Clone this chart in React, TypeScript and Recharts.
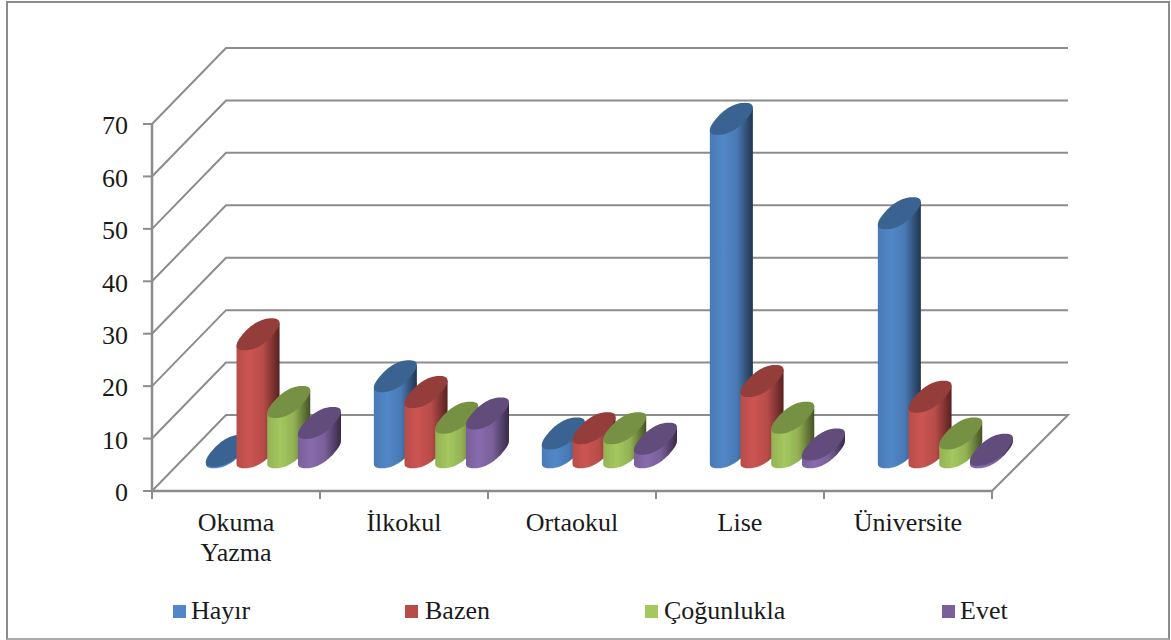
import React from 'react';
import { BarChart, Bar, XAxis, YAxis, CartesianGrid, Legend } from 'recharts';

const categories = ['Okuma Yazma', 'İlkokul', 'Ortaokul', 'Lise', 'Üniversite'];
const hayir = [0.3, 14.5, 3.6, 63.6, 45.6];
const bazen = [22.5, 11.5, 4.6, 13.6, 10.6];
const cogunlukla = [9.6, 6.6, 4.6, 6.6, 3.6];
const evet = [5.6, 7.4, 2.6, 1.5, 0.5];
const yTicks = [0, 10, 20, 30, 40, 50, 60, 70];

const data = categories.map((name, i) => ({
    name,
    hayir: hayir[i],
    bazen: bazen[i],
    cogunlukla: cogunlukla[i],
    evet: evet[i],
}));

const FONT = '"Liberation Serif", serif';
const LINE = '#8c8c8c';
const BAND = 168;

// depth of the fake 3D box
const DEPTH_X = 74;
const DEPTH_Y = 76;
// cylinders stand in the middle of the floor
const MID_X = 37;
const MID_Y = 38.7;
const TILT_X = 13.5;
const TILT_Y = 16;
// below 1 the ellipse gets a bit squarer, the original has a soft bevel
const SQUARE = 0.85;

const colors = {
    hayir: { id: 'gHayir', body: '#4a7ab5', light: '#5187c8', top: '#3a6391', edge: '#21364f' },
    bazen: { id: 'gBazen', body: '#b84c49', light: '#cc5552', top: '#943d3b', edge: '#562120' },
    cogunlukla: { id: 'gCogun', body: '#94b255', light: '#a4c75f', top: '#769044', edge: '#435225' },
    evet: { id: 'gEvet', body: '#7a5f9a', light: '#886bad', top: '#624c7c', edge: '#362a46' },
};

const legendSpots = [
    { marker: 173, text: 191 },
    { marker: 405, text: 425 },
    { marker: 645, text: 664 },
    { marker: 942, text: 960 },
];

const Cylinder = (props: any) => {
    const { x, y, width, height, look } = props;
    const a = width / 2;
    const cx = x + a + MID_X;
    const topY = y - MID_Y;
    const baseY = y + height - MID_Y;

    const soft = (v: number) => Math.sign(v) * Math.pow(Math.abs(v), SQUARE);
    const pt = (t: number, cy: number): [number, number] => {
        const c = soft(Math.cos(t));
        const s = soft(Math.sin(t));
        return [cx + a * c + TILT_X * s, cy - TILT_Y * s];
    };

    // find the points where the outline is furthest left and right
    const steps = 96;
    let best = 0;
    for (let i = 0; i < steps; i++) {
        if (pt((2 * Math.PI * i) / steps, 0)[0] > pt((2 * Math.PI * best) / steps, 0)[0]) best = i;
    }
    const t0 = (2 * Math.PI * best) / steps;

    let d = '';
    for (let i = 0; i <= steps / 2; i++) {
        const [px, py] = pt(Math.PI + t0 + (2 * Math.PI * i) / steps, baseY);
        d += `${i === 0 ? 'M' : 'L'}${px.toFixed(2)} ${py.toFixed(2)} `;
    }
    const [rx, ry] = pt(t0, topY);
    const [lx, ly] = pt(Math.PI + t0, topY);
    d += `L${rx.toFixed(2)} ${ry.toFixed(2)} L${lx.toFixed(2)} ${ly.toFixed(2)} Z`;

    let cap = '';
    for (let i = 0; i < steps; i++) {
        const [px, py] = pt((2 * Math.PI * i) / steps, topY);
        cap += `${i === 0 ? 'M' : 'L'}${px.toFixed(2)} ${py.toFixed(2)} `;
    }

    return (
        <g>
            <path d={d} fill={`url(#${look.id})`} />
            <path d={`${cap}Z`} fill={look.top} />
        </g>
    );
};

// each grid line runs up the side wall and then along the back wall
const gridLine = (props: any) => {
    const { x1, y1, x2, y, height, index } = props;
    const isFloor = y1 >= y + height - 0.5;
    let d = `M${x1} ${y1} L${x1 + DEPTH_X} ${y1 - DEPTH_Y} L${x2 + DEPTH_X + 2} ${y1 - DEPTH_Y}`;
    if (isFloor) d += ` L${x2} ${y1}`;
    return <path key={index} d={d} fill="none" stroke={LINE} strokeWidth={2} />;
};

const CategoryTick = (props: any) => {
    const { x, y, payload, index } = props;
    const words = String(payload.value).split(' ');
    return (
        <g>
            <line x1={x - BAND / 2} y1={y - 8} x2={x - BAND / 2} y2={y} stroke={LINE} strokeWidth={2} />
            {index === categories.length - 1 && (
                <line x1={x + BAND / 2} y1={y - 8} x2={x + BAND / 2} y2={y} stroke={LINE} strokeWidth={2} />
            )}
            <text x={x} y={y + 32} textAnchor="middle" fontFamily={FONT} fontSize={26} fill="#1a1a1a">
                {words.map((w, i) => (
                    <tspan key={w} x={x} dy={i === 0 ? 0 : 30}>
                        {w}
                    </tspan>
                ))}
            </text>
        </g>
    );
};

const LegendRow = ({ payload }: any) => (
    <div style={{ position: 'relative', width: 1171, height: 0 }}>
        {(payload || []).map((item: any, i: number) => (
            <React.Fragment key={item.value}>
                <div
                    style={{
                        position: 'absolute',
                        left: legendSpots[i].marker,
                        top: 605,
                        width: 13,
                        height: 13,
                        background: item.color,
                    }}
                />
                <div
                    style={{
                        position: 'absolute',
                        left: legendSpots[i].text,
                        top: 596,
                        fontFamily: FONT,
                        fontSize: 26,
                        lineHeight: '30px',
                        color: '#1a1a1a',
                        whiteSpace: 'nowrap',
                    }}
                >
                    {item.value}
                </div>
            </React.Fragment>
        ))}
    </div>
);

export default function App() {
    return (
        <div style={{ position: 'absolute', left: 0, top: 0, width: 1171, height: 640, background: '#fff', overflow: 'hidden' }}>
            <div
                style={{
                    position: 'absolute',
                    left: 6,
                    top: 1,
                    width: 1160,
                    height: 635,
                    border: '2px solid #8c8c8c',
                    borderBottomColor: '#ababab',
                }}
            />
            <BarChart
                width={1171}
                height={640}
                data={data}
                barSize={30.7}
                barGap={0}
                margin={{ top: 124, right: 179, bottom: 89, left: 92 }}
                style={{ position: 'absolute', left: 0, top: 0 }}
            >
                <defs>
                    {Object.values(colors).map((c) => (
                        <linearGradient key={c.id} id={c.id} x1="0" y1="0" x2="1" y2="0">
                            <stop offset="0%" stopColor={c.body} />
                            <stop offset="30%" stopColor={c.light} />
                            <stop offset="62%" stopColor={c.body} />
                            <stop offset="100%" stopColor={c.edge} />
                        </linearGradient>
                    ))}
                </defs>
                <CartesianGrid vertical={false} horizontal={gridLine} />
                <XAxis
                    dataKey="name"
                    height={60}
                    interval={0}
                    tickLine={false}
                    tickSize={8}
                    tickMargin={0}
                    axisLine={{ stroke: LINE, strokeWidth: 2.5 }}
                    tick={<CategoryTick />}
                />
                <YAxis
                    width={60}
                    domain={[0, 70]}
                    ticks={yTicks}
                    interval={0}
                    tickSize={9}
                    tickMargin={15}
                    axisLine={{ stroke: LINE, strokeWidth: 2.5 }}
                    tickLine={{ stroke: LINE, strokeWidth: 2 }}
                    tick={{ fontFamily: FONT, fontSize: 26, fill: '#1a1a1a', dy: 1 }}
                />
                <Legend
                    layout="horizontal"
                    verticalAlign="middle"
                    align="center"
                    itemSorter={null}
                    content={<LegendRow />}
                    wrapperStyle={{ left: 0, top: 0, width: 1171, height: 0 }}
                />
                <Bar dataKey="hayir" name="Hayır" fill={colors.hayir.light} isAnimationActive={false} shape={<Cylinder look={colors.hayir} />} />
                <Bar dataKey="bazen" name="Bazen" fill={colors.bazen.body} isAnimationActive={false} shape={<Cylinder look={colors.bazen} />} />
                <Bar dataKey="cogunlukla" name="Çoğunlukla" fill={colors.cogunlukla.light} isAnimationActive={false} shape={<Cylinder look={colors.cogunlukla} />} />
                <Bar dataKey="evet" name="Evet" fill={colors.evet.body} isAnimationActive={false} shape={<Cylinder look={colors.evet} />} />
            </BarChart>
        </div>
    );
}
